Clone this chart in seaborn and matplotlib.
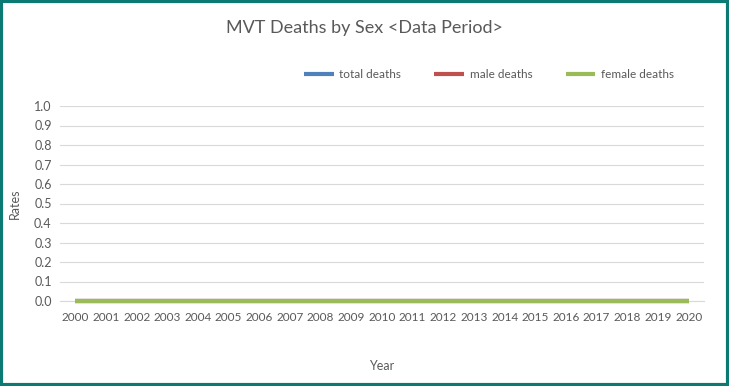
import matplotlib
matplotlib.use("Agg")
import matplotlib.pyplot as plt
import numpy as np
import pandas as pd
import seaborn as sns

years = list(range(2000, 2021))
total_deaths = [0.0] * 21
male_deaths = [0.0] * 21
female_deaths = [0.0] * 21
series_names = ["total deaths", "male deaths", "female deaths"]
colors = ["#4F81BD", "#C0504D", "#9BBB59"]
yticks = [0.0, 0.1, 0.2, 0.3, 0.4, 0.5, 0.6, 0.7, 0.8, 0.9, 1.0]

df = pd.DataFrame({
    "pos": list(range(len(years))) * 3,
    "value": total_deaths + male_deaths + female_deaths,
    "series": [s for s in series_names for _ in years],
})

sns.set_style("white")
plt.rcParams["font.family"] = ["Lato", "DejaVu Sans"]
grey = "#595959"

fig = plt.figure(figsize=(7.29, 3.86), dpi=100)
ax = fig.add_axes([60 / 729, 85 / 386, 644 / 729, 195 / 386])

sns.lineplot(data=df, x="pos", y="value", hue="series", palette=colors,
             hue_order=series_names, linewidth=3, ax=ax, legend=False)
for ln in ax.lines:
    ln.set_clip_on(False)
    ln.set_solid_capstyle("butt")
    ln.set_zorder(3)

ax.set_xlim(-0.5, len(years) - 0.5)
ax.set_ylim(0, 1.0)
ax.set_yticks(yticks)
ax.set_yticklabels([f"{v:.1f}" for v in yticks], color=grey, fontsize=9)
ax.set_xticks(range(len(years)))
ax.set_xticklabels([str(y) for y in years], color=grey, fontsize=8.5)
ax.set_xticks(np.arange(-0.5, len(years), 1), minor=True)
ax.tick_params(axis="x", which="major", length=0, pad=8)
ax.tick_params(axis="x", which="minor", length=5, color="#d9d9d9", direction="out")
ax.tick_params(axis="y", length=0, pad=6)
ax.grid(axis="y", color="#d9d9d9", linewidth=0.8)
ax.set_axisbelow(True)
for s in ["top", "right", "left"]:
    ax.spines[s].set_visible(False)
ax.spines["bottom"].set_color("#d9d9d9")
ax.set_xlabel("Year", color=grey, fontsize=9)
ax.set_ylabel("Rates", color=grey, fontsize=9)
ax.xaxis.set_label_coords(0.5, -0.30)
ax.yaxis.set_label_coords(-0.06, 0.5)

handles = [plt.Line2D([], [], color=c, linewidth=3, solid_capstyle="butt") for c in colors]
fig.legend(handles, series_names, loc="center", bbox_to_anchor=(489 / 729, 1 - 75 / 386),
           ncol=3, frameon=False, fontsize=8.5, labelcolor=grey, handlelength=2.5,
           columnspacing=2.8, handletextpad=0.5)

fig.suptitle("MVT Deaths by Sex <Data Period>", x=0.5, y=1 - 28 / 386, va="center",
             fontsize=13, color=grey)

border = plt.Rectangle((0.002, 0.003), 0.996, 0.994, transform=fig.transFigure,
                       fill=False, edgecolor="#0B7A73", linewidth=3)
fig.patches.append(border)

fig.savefig("out.png", dpi=100)
